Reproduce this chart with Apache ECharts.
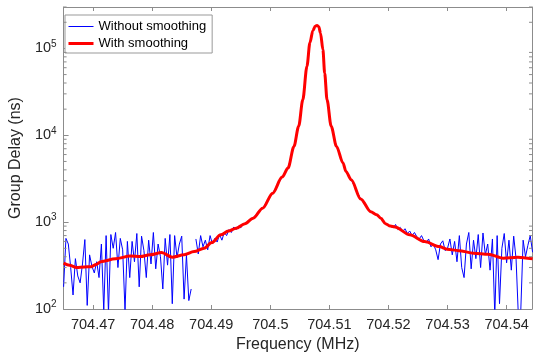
<!DOCTYPE html>
<html lang="en" style="height: 100%">
<head>
    <meta charset="UTF-8">
    <title>Group Delay</title>
    <style>
        #main{
            width: 535px;
            height: 360px;
        }
    </style>
    <script type="text/javascript" src="https://cdn.jsdelivr.net/npm/echarts@6/dist/echarts.min.js"></script>
</head>
<body style="margin: 0; background: #fff">
<div id="main"></div>
<script>
    // axis range
    var xMin = 704.465;
    var xMax = 704.5443;
    var yMin = 100;
    var yMax = 300000;

    // smoothed curve (freq in MHz, group delay in ns)
    var redFreq = [
        704.4650, 704.4660, 704.4672, 704.4685, 704.4697, 704.4705, 704.4713, 704.4738, 704.4763, 704.4780,
        704.4796, 704.4816, 704.4834, 704.4854, 704.4871, 704.4888, 704.4901, 704.4916, 704.4929, 704.4942,
        704.4957, 704.4971, 704.4987, 704.5004, 704.5020, 704.5030, 704.5040, 704.5048, 704.5055, 704.5062,
        704.5067, 704.5072, 704.5076, 704.5079, 704.5082, 704.5085, 704.5089, 704.5092, 704.5096, 704.5103,
        704.5112, 704.5123, 704.5128, 704.5137, 704.5153, 704.5170, 704.5180, 704.5187, 704.5195, 704.5203,
        704.5211, 704.5236, 704.5261, 704.5286, 704.5299, 704.5319, 704.5344, 704.5369, 704.5394, 704.5419,
        704.5444
    ];
    var redVal = [
        337, 318, 300, 305, 307, 325, 351, 378, 408, 401,
        420, 446, 395, 420, 458, 501, 582, 714, 790, 853,
        960, 1112, 1449, 2158, 3300, 4200, 7450, 12700, 25700, 62400,
        116000, 160000, 180000, 184000, 178000, 150000, 97000, 52000, 25700, 12700,
        7450, 4800, 3840, 3070, 1850, 1320, 1220, 1110, 960, 900,
        880, 714, 597, 524, 489, 470, 439, 427, 385, 395,
        378
    ];

    // raw curve, left noisy part: from 704.465, every 0.0004 MHz
    var blueLeftStart = 704.465;
    var blueStep = 0.0004;
    var blueLeft = [
        180, 650, 560, 300, 145, 380, 240, 200, 330, 630,
        110, 420, 310, 260, 350, 230, 560, 95, 700, 90,
        720, 500, 760, 300, 650, 480, 95, 600, 230, 600,
        350, 740, 180, 690, 470, 230, 620, 330, 760, 290,
        560, 400, 170, 650, 320, 720, 115, 700, 390, 560,
        690, 130, 420, 125, 170, null, 640, 430, 700, 520,
        620, 480, 700, 560, 650, 590, 720, 620, 760, 700,
        820, 760, 880, 820, 900, 860, 960, 940, 1020, 1080, 1110
    ];
    // raw curve, right noisy part: from 704.5204, every 0.0004 MHz
    var blueRightStart = 704.5204;
    var blueRight = [
        900, 860, 940, 820, 870, 780, 840, 740, 790, 700,
        760, 680, 640, 700, 610, 580, 640, 520, 560, 480,
        370, 560, 610, 470, 500, 640, 420, 600, 350, 700,
        300, 230, 560, 760, 290, 620, 380, 720, 300, 750,
        420, 560, 280, 640, 85, 700, 115, 500, 740, 340,
        620, 280, 690, 380, 80, 95, 620, 400, 540, 700, 450
    ];

    // log minor ticks
    var minorTicks = [
        200, 300, 400, 500, 600, 700, 800, 900,
        2000, 3000, 4000, 5000, 6000, 7000, 8000, 9000,
        20000, 30000, 40000, 50000, 60000, 70000, 80000, 90000,
        200000, 300000
    ];

    var redData = redFreq.map(function (f, i) { return [f, redVal[i]]; });

    var blueData = [];
    blueLeft.forEach(function (v, i) {
        blueData.push([+(blueLeftStart + i * blueStep).toFixed(4), v]);
    });
    var leftEnd = blueData[blueData.length - 1][0];
    // middle part lies under the smoothed curve
    redData.forEach(function (p) {
        if (p[0] > leftEnd && p[0] < blueRightStart) blueData.push(p);
    });
    blueRight.forEach(function (v, i) {
        blueData.push([+(blueRightStart + i * blueStep).toFixed(4), v]);
    });

    var textColor = '#262626';
    var lineColor = '#8c8c8c';
    var font = '"Liberation Sans", Arial, sans-serif';

    var chart = echarts.init(document.getElementById('main'));

    var option = {
        animation: false,
        backgroundColor: '#fff',
        grid: {left: 57, right: 1, top: 7, bottom: 51},
        legend: {
            orient: 'vertical',
            left: 65,
            top: 15,
            padding: [5, 6, 3, 2],
            itemWidth: 25,
            itemHeight: 13,
            itemGap: 4,
            itemTextGap: 3,
            backgroundColor: '#fff',
            borderColor: '#999',
            borderWidth: 1,
            borderRadius: 0,
            itemStyle: {opacity: 0, borderWidth: 0},
            textStyle: {fontFamily: font, fontSize: 13, color: '#000'},
            data: [
                {name: 'Without smoothing', lineStyle: {width: 1}},
                {name: 'With smoothing', lineStyle: {width: 3}}
            ]
        },
        xAxis: [
            {
                type: 'value',
                min: xMin,
                max: xMax,
                splitNumber: 8,
                name: 'Frequency (MHz)',
                nameLocation: 'middle',
                nameGap: 26,
                nameTextStyle: {fontFamily: font, fontSize: 16, color: textColor},
                axisLine: {show: true, lineStyle: {color: lineColor}},
                axisTick: {inside: true, length: 4, lineStyle: {color: lineColor}},
                axisLabel: {
                    fontFamily: font, fontSize: 14.5, color: textColor, margin: 8,
                    formatter: function (v) {
                        if (Math.abs(v * 100 - Math.round(v * 100)) > 1e-6) return '';
                        return String(parseFloat(v.toFixed(2)));
                    }
                },
                splitLine: {show: false}
            },
            {
                type: 'value',
                position: 'top',
                min: xMin,
                max: xMax,
                splitNumber: 8,
                axisLine: {show: true, lineStyle: {color: lineColor}},
                axisTick: {inside: true, length: 4, lineStyle: {color: lineColor}},
                axisLabel: {show: false},
                splitLine: {show: false}
            }
        ],
        yAxis: [
            {
                type: 'log',
                logBase: 10,
                min: yMin,
                max: yMax,
                name: 'Group Delay (ns)',
                nameLocation: 'middle',
                nameGap: 37,
                nameTextStyle: {fontFamily: font, fontSize: 16, color: textColor},
                axisLine: {show: true, lineStyle: {color: lineColor}},
                axisTick: {inside: true, length: 5, lineStyle: {color: lineColor}},
                axisLabel: {
                    fontFamily: font, fontSize: 14.5, color: textColor, margin: 7,
                    formatter: function (v) {
                        var e = Math.log10(v);
                        if (Math.abs(e - Math.round(e)) > 1e-6) return '';
                        return '10{sup|' + Math.round(e) + '}';
                    },
                    rich: {
                        sup: {fontFamily: font, fontSize: 10, color: textColor, verticalAlign: 'bottom', padding: [0, 0, 9, 0]}
                    }
                },
                splitLine: {show: false}
            },
            {
                type: 'log',
                logBase: 10,
                position: 'right',
                min: yMin,
                max: yMax,
                axisLine: {show: true, lineStyle: {color: lineColor}},
                axisTick: {show: false},
                axisLabel: {show: false},
                splitLine: {show: false}
            }
        ],
        series: [
            {
                name: 'Without smoothing',
                type: 'line',
                data: blueData,
                symbol: 'none',
                connectNulls: false,
                lineStyle: {color: '#0000ff', width: 1},
                itemStyle: {color: '#0000ff'},
                z: 2
            },
            {
                name: 'With smoothing',
                type: 'line',
                data: redData,
                symbol: 'none',
                smooth: 0.3,
                smoothMonotone: 'x',
                lineStyle: {color: '#ff0000', width: 3},
                itemStyle: {color: '#ff0000'},
                z: 3
            },
            {
                type: 'custom',
                silent: true,
                clip: false,
                data: minorTicks,
                renderItem: function (params, api) {
                    var v = api.value(0);
                    var l = api.coord([xMin, v]);
                    var r = api.coord([xMax, v]);
                    var st = {stroke: lineColor, lineWidth: 1};
                    return {
                        type: 'group',
                        children: [
                            {type: 'line', shape: {x1: l[0], y1: l[1], x2: l[0] + 3, y2: l[1]}, style: st},
                            {type: 'line', shape: {x1: r[0], y1: r[1], x2: r[0] - 3, y2: r[1]}, style: st}
                        ]
                    };
                },
                encode: {y: 0},
                z: 5
            }
        ]
    };

    chart.setOption(option);

    window.onresize = function () {
        chart.resize();
    };
</script>
</body>
</html>
